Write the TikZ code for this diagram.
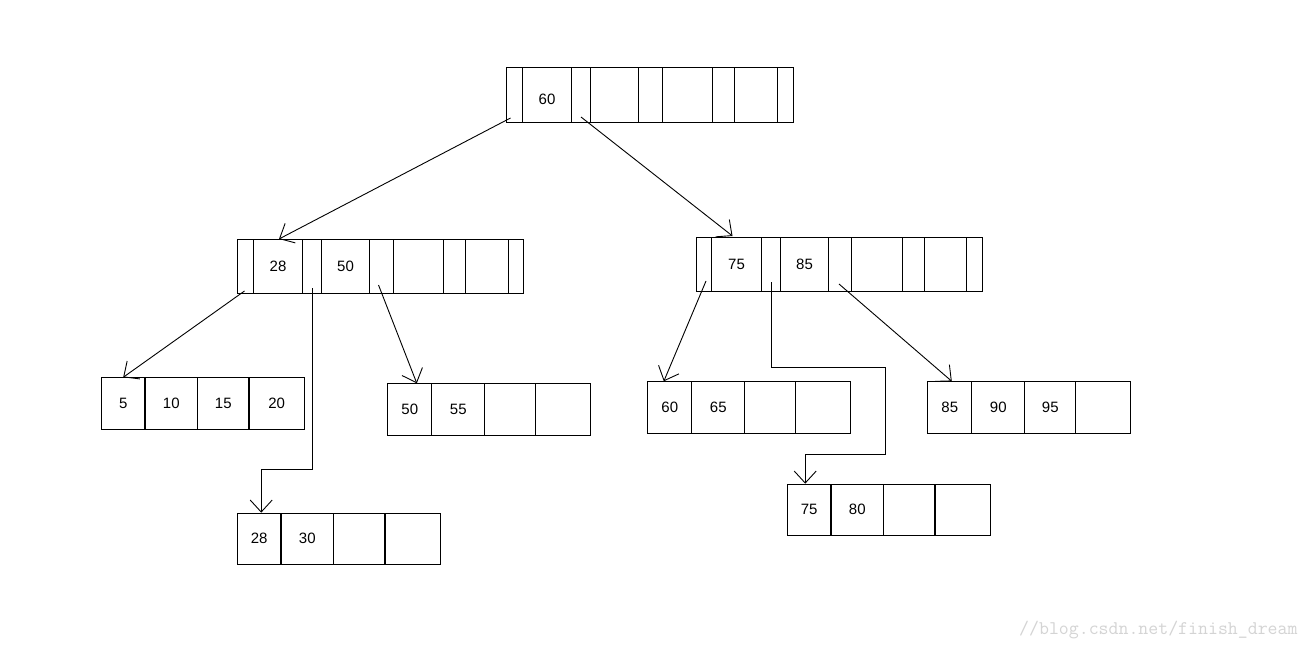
\documentclass[tikz,border=0pt]{standalone}
\usepackage{fontspec}
\setmainfont{Liberation Sans}
\usetikzlibrary{arrows.meta,calc}
\definecolor{wmgray}{RGB}{212,212,212}
\begin{document}
\begin{tikzpicture}[x=1pt,y=-1pt,
  cell/.style={draw, line width=1pt, inner sep=0pt, anchor=north west,
    font=\fontsize{15}{15}\selectfont},
  link/.style={line width=0.9pt, -{Straight Barb[length=12pt,width=22pt,line width=0.9pt]}}]
\fill[white] (0,0) rectangle (1311,650);
\useasboundingbox (0,0) rectangle (1311,650);
% root
\node[cell, minimum width=16, minimum height=55] (r0) at (506,67) {};
\node[cell, minimum width=49, minimum height=55] (r1) at (522,67) {};
\node[font=\fontsize{15}{15}\selectfont, inner sep=0pt] (r1t) at ($(r1.center)+(0,4)$) {60};
\node[cell, minimum width=19, minimum height=55] (r2) at (571,67) {};
\node[cell, minimum width=48, minimum height=55] (r3) at (590,67) {};
\node[cell, minimum width=24, minimum height=55] (r4) at (638,67) {};
\node[cell, minimum width=50, minimum height=55] (r5) at (662,67) {};
\node[cell, minimum width=22, minimum height=55] (r6) at (712,67) {};
\node[cell, minimum width=43, minimum height=55] (r7) at (734,67) {};
\node[cell, minimum width=16, minimum height=55] (r8) at (777,67) {};
% middle left
\node[cell, minimum width=16, minimum height=54] (m0) at (237,239) {};
\node[cell, minimum width=49, minimum height=54] (m1) at (253,239) {28};
\node[cell, minimum width=19, minimum height=54] (m2) at (302,239) {};
\node[cell, minimum width=48, minimum height=54] (m3) at (321,239) {50};
\node[cell, minimum width=24, minimum height=54] (m4) at (369,239) {};
\node[cell, minimum width=50, minimum height=54] (m5) at (393,239) {};
\node[cell, minimum width=22, minimum height=54] (m6) at (443,239) {};
\node[cell, minimum width=43, minimum height=54] (m7) at (465,239) {};
\node[cell, minimum width=15, minimum height=54] (m8) at (508,239) {};
% middle right
\node[cell, minimum width=15, minimum height=54] (n0) at (696,237) {};
\node[cell, minimum width=50, minimum height=54] (n1) at (711,237) {75};
\node[cell, minimum width=19, minimum height=54] (n2) at (761,237) {};
\node[cell, minimum width=48, minimum height=54] (n3) at (780,237) {85};
\node[cell, minimum width=23, minimum height=54] (n4) at (828,237) {};
\node[cell, minimum width=51, minimum height=54] (n5) at (851,237) {};
\node[cell, minimum width=22, minimum height=54] (n6) at (902,237) {};
\node[cell, minimum width=42, minimum height=54] (n7) at (924,237) {};
\node[cell, minimum width=16, minimum height=54] (n8) at (966,237) {};
% leaf A
\node[cell, minimum width=44, minimum height=52] (a1) at (100.7,377.3) {5};
\node[cell, minimum width=53, minimum height=52] (a2) at (144.3,377.3) {10};
\node[cell, minimum width=51, minimum height=52] (a3) at (197.3,377.3) {15};
\node[cell, minimum width=55, minimum height=52] (a4) at (248.7,377.3) {20};
% leaf B
\node[cell, minimum width=44, minimum height=52] (b1) at (387.3,383.3) {50};
\node[cell, minimum width=53, minimum height=52] (b2) at (431.3,383.3) {55};
\node[cell, minimum width=51, minimum height=52] (b3) at (484.3,383.3) {};
\node[cell, minimum width=55, minimum height=52] (b4) at (535.3,383.3) {};
% leaf C
\node[cell, minimum width=44, minimum height=51] (c1) at (236.7,512.7) {28};
\node[cell, minimum width=53, minimum height=51] (c2) at (280.3,512.7) {30};
\node[cell, minimum width=51, minimum height=51] (c3) at (333.3,512.7) {};
\node[cell, minimum width=55, minimum height=51] (c4) at (384.7,512.7) {};
% leaf D
\node[cell, minimum width=44, minimum height=52] (d1) at (647.3,381.3) {60};
\node[cell, minimum width=53, minimum height=52] (d2) at (691.3,381.3) {65};
\node[cell, minimum width=51, minimum height=52] (d3) at (744.3,381.3) {};
\node[cell, minimum width=55, minimum height=52] (d4) at (795.3,381.3) {};
% leaf E
\node[cell, minimum width=44, minimum height=52] (e1) at (927.3,381.3) {85};
\node[cell, minimum width=53, minimum height=52] (e2) at (971.3,381.3) {90};
\node[cell, minimum width=51, minimum height=52] (e3) at (1024.3,381.3) {95};
\node[cell, minimum width=55, minimum height=52] (e4) at (1075.3,381.3) {};
% leaf F
\node[cell, minimum width=44, minimum height=51] (f1) at (786.7,483.7) {75};
\node[cell, minimum width=53, minimum height=51] (f2) at (830.3,483.7) {80};
\node[cell, minimum width=51, minimum height=51] (f3) at (883.3,483.7) {};
\node[cell, minimum width=55, minimum height=51] (f4) at (934.7,483.7) {};
% connectors
\draw[link] ($(r0.south)+(-4,-5)$) -- ($(m1.north)+(1,0)$);
\draw[link] ($(r2.south)+(0,-6)$) -- ($(n1.north)+(-4,-1)$);
\draw[link] ($(m0.south)+(-1,-3)$) -- (a1.north);
\draw[link] ($(m2.south)+(0,-6)$) -- ++(0,181) -| ($(c1.north)+(2,0)$);
\draw[link] ($(m4.south)+(-3,-9)$) -- ($(b1.north)+(7,0)$);
\draw[link] ($(n0.south)+(2,-11)$) -- ($(d1.north)+(-6,0)$);
\draw[link] ($(n2.south)+(0,-10)$) -- ++(0,85) -- ++(114,0) -- ++(0,87) -| ($(f1.north)+(-4,0)$);
\draw[link] ($(n4.south)+(-1,-8)$) -- ($(e1.north)+(2,0)$);
% watermark
\node[anchor=base west, inner sep=0pt, text=wmgray, font=\ttfamily\fontsize{19.3}{19.3}\selectfont] (wm) at (1019,634) {//blog.csdn.net/finish\_dream};
\end{tikzpicture}
\end{document}
